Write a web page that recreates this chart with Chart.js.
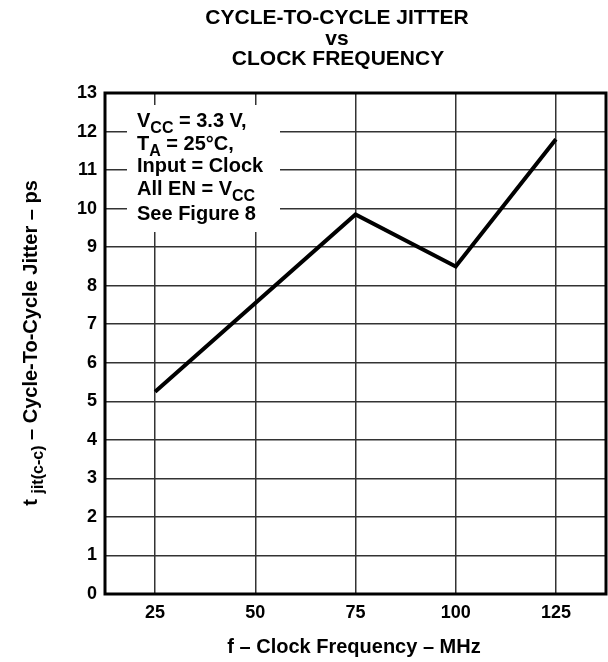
<!DOCTYPE html>
<html>
<head>
<meta charset="utf-8">
<script src="https://cdn.jsdelivr.net/npm/chart.js@4/dist/chart.umd.min.js"></script>
<style>
	html, body { margin: 0; padding: 0; background: #fff; }
	#wrap { width: 608px; height: 662px; position: relative; }
</style>
</head>
<body>
<div id="wrap"><canvas id="jitterChart"></canvas></div>
<script>
const freqMHz = [25, 75, 100, 125];
const jitterPs = [5.25, 9.85, 8.5, 11.8];
const xTicks = [25, 50, 75, 100, 125];
const titleLines = ['CYCLE-TO-CYCLE JITTER', 'vs', 'CLOCK FREQUENCY'];
const noteLines = [
	[['V'], ['CC', 1], [' = 3.3 V,']],
	[['T'], ['A', 1], [' = 25°C,']],
	[['Input = Clock']],
	[['All EN = V'], ['CC', 1]],
	[['See Figure 8']]
];
const yTitle = [['t '], ['jit(c-c)', 1], [' – Cycle-To-Cycle Jitter – ps']];
const xTitle = 'f – Clock Frequency – MHz';

const FONT = '"Liberation Sans", Arial, sans-serif';

// draws text pieces, subscripts smaller and lower
function drawRich(ctx, parts, x, y, size) {
	let cx = x;
	parts.forEach(function(p) {
		const sub = p[1] === 1;
		ctx.font = 'bold ' + (sub ? Math.round(size * 0.82) : size) + 'px ' + FONT;
		ctx.fillText(p[0], cx, sub ? y + size * 0.28 : y);
		cx += ctx.measureText(p[0]).width;
	});
	return cx - x;
}

function richWidth(ctx, parts, size) {
	let w = 0;
	parts.forEach(function(p) {
		ctx.font = 'bold ' + (p[1] === 1 ? Math.round(size * 0.82) : size) + 'px ' + FONT;
		w += ctx.measureText(p[0]).width;
	});
	return w;
}

const decor = {
	id: 'decor',
	afterDraw(chart) {
		const ctx = chart.ctx;
		const a = chart.chartArea;
		ctx.save();
		ctx.fillStyle = '#000';
		ctx.textBaseline = 'alphabetic';

		// title
		ctx.textAlign = 'center';
		ctx.font = 'bold 21px ' + FONT;
		ctx.fillText(titleLines[0], 337, 24);
		ctx.fillText(titleLines[1], 337, 45);
		ctx.fillText(titleLines[2], 338, 65);

		// x title
		ctx.font = 'bold 20px ' + FONT;
		ctx.fillText(xTitle, 354, 653);

		// y title, rotated
		ctx.textAlign = 'left';
		ctx.save();
		ctx.translate(37, 343);
		ctx.rotate(-Math.PI / 2);
		const w = richWidth(ctx, yTitle, 20);
		drawRich(ctx, yTitle, -w / 2, 0, 20);
		ctx.restore();

		// note box
		ctx.fillStyle = '#fff';
		ctx.fillRect(a.left + 22, a.top + 12, 153, 127);
		ctx.fillStyle = '#000';
		const noteBase = [127, 150, 172, 195, 220];
		noteLines.forEach(function(line, i) {
			drawRich(ctx, line, a.left + 32, noteBase[i], 20);
		});

		// frame
		ctx.strokeStyle = '#000';
		ctx.lineWidth = 3;
		ctx.strokeRect(a.left, a.top, a.right - a.left, a.bottom - a.top);
		ctx.restore();
	}
};

new Chart(document.getElementById('jitterChart'), {
	type: 'scatter',
	data: {
		datasets: [{
			data: freqMHz.map(function(f, i) { return { x: f, y: jitterPs[i] }; }),
			showLine: true,
			borderColor: '#000',
			borderWidth: 4,
			pointRadius: 0,
			tension: 0
		}]
	},
	options: {
		responsive: true,
		maintainAspectRatio: false,
		animation: false,
		layout: { padding: { top: 93, right: 2, left: 0, bottom: 0 } },
		plugins: {
			legend: { display: false },
			title: { display: false },
			tooltip: { enabled: false }
		},
		scales: {
			x: {
				type: 'linear',
				min: 12.5,
				max: 137.5,
				afterBuildTicks: function(scale) {
					scale.ticks = xTicks.map(function(v) { return { value: v }; });
				},
				afterFit: function(scale) { scale.height = 68; },
				grid: { color: '#333', lineWidth: 1.5, drawTicks: false },
				border: { display: false },
				ticks: {
					color: '#000',
					padding: 8,
					maxRotation: 0,
					font: { family: FONT, size: 18, weight: 'bold' }
				}
			},
			y: {
				min: 0,
				max: 13,
				afterFit: function(scale) { scale.width = 105; },
				grid: { color: '#333', lineWidth: 1.5, drawTicks: false },
				border: { display: false },
				ticks: {
					stepSize: 1,
					color: '#000',
					padding: 8,
					font: { family: FONT, size: 18, weight: 'bold' }
				}
			}
		}
	},
	plugins: [decor]
});
</script>
</body>
</html>
